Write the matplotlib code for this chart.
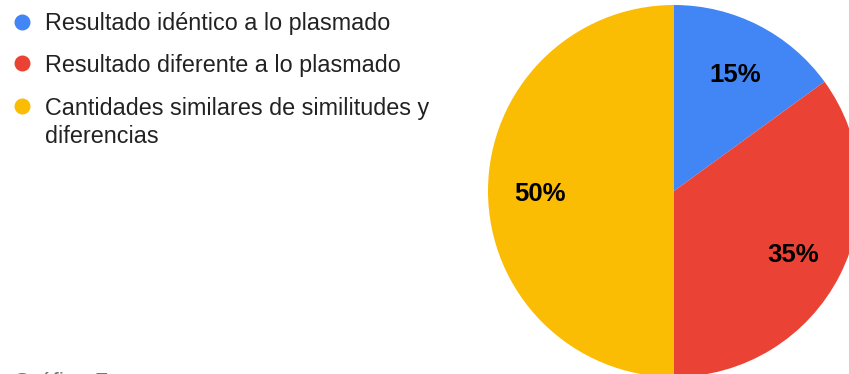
import matplotlib.pyplot as plt

# slice data (percent of responses)
labels = [
    "Resultado idéntico a lo plasmado",
    "Resultado diferente a lo plasmado",
    "Cantidades similares de similitudes y\ndiferencias",
]
values = [15, 35, 50]
colors = ["#4285F4", "#EA4335", "#FBBC04"]
caption = "Gráfico 7"

plt.rcParams["font.family"] = ["Liberation Sans", "DejaVu Sans"]

W, H = 849, 374
fig = plt.figure(figsize=(W / 100, H / 100), dpi=100)
ax = fig.add_axes([0, 0, 1, 1])

# pie in pixel units, starting at 12 o'clock going clockwise
wedges, _, pct = ax.pie(
    values,
    colors=colors,
    startangle=90,
    counterclock=False,
    center=(674, H - 191),
    radius=186,
    autopct="%.0f%%",
    pctdistance=0.72,
    wedgeprops=dict(linewidth=0),
    textprops=dict(fontsize=18.5, fontweight="bold", color="black"),
)
for t in pct:
    x, y = t.get_position()
    t.set_position((x, y - 3))
ax.set_xlim(0, W)
ax.set_ylim(0, H)
ax.set_aspect("auto")
ax.axis("off")

# legend drawn by hand: dot + label, wrapped lines 28px apart
dot_y = [22, 63, 106]
base_y = [30, 72, 115]
for lab, col, dy, by in zip(labels, colors, dot_y, base_y):
    ax.plot(22, H - dy, "o", color=col, markersize=11.5, markeredgewidth=0)
    for i, line in enumerate(lab.split("\n")):
        ax.text(45, H - by - 28 * i, line, fontsize=16.8, color="#222222",
                va="baseline", ha="left")

ax.text(13, H - 390, caption, fontsize=16.8, color="#757575",
        va="baseline", ha="left", clip_on=False)

fig.savefig("out.png", dpi=100)
